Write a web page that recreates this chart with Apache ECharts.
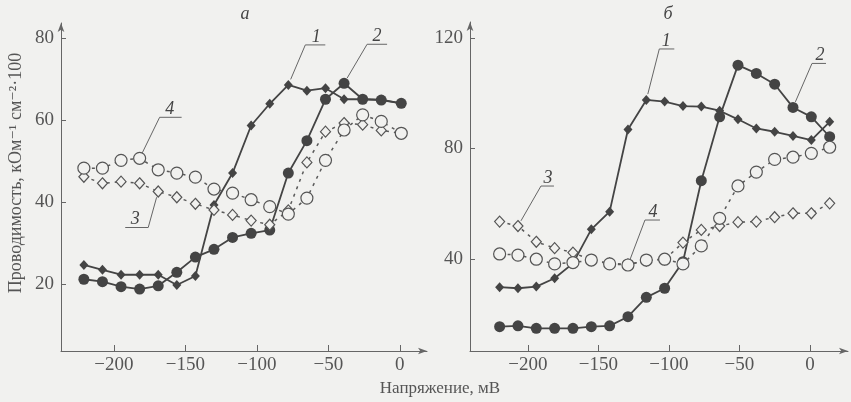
<!DOCTYPE html>
<html><head><meta charset="utf-8">
<script src="https://cdn.jsdelivr.net/npm/echarts@6/dist/echarts.min.js"></script>
<style>html,body{margin:0;padding:0;background:#f1f1ef}#c{width:851px;height:402px}</style>
</head><body><div id="c"></div>
<script>
// ---- data ----
const xA = [-221,-208,-195,-182,-169,-156,-143,-130,-117,-104,-91,-78,-65,-52,-39,-26,-13,1];
const s1a = [24.7,23.5,22.3,22.3,22.3,19.8,22.0,39.3,47.1,58.7,64.0,68.6,67.2,67.8,65.1,65.1,65.0,64.1];
const s2a = [21.2,20.6,19.4,18.8,19.6,22.9,26.6,28.5,31.4,32.4,33.2,47.1,55.0,65.1,69.0,65.1,64.9,64.1];
const s3a = [46.2,44.6,45.0,44.6,42.6,41.2,39.6,38.1,36.9,35.5,34.5,38.0,49.7,57.2,59.3,58.9,57.5,56.8];
const s4a = [48.3,48.3,50.2,50.7,47.9,47.1,46.1,43.2,42.2,40.6,38.9,37.1,41.0,50.2,57.6,61.3,59.7,56.8];

const xB = [-220,-207,-194,-181,-168,-155,-142,-129,-116,-103,-90,-77,-64,-51,-38,-25,-12,1,14];
const s1b = [29.8,29.4,30.0,33.0,38.4,50.7,57.1,86.8,97.5,96.9,95.3,95.1,93.6,90.5,87.2,86.0,84.5,83.0,89.6];
const s2b = [15.5,15.8,14.9,14.9,14.9,15.5,15.8,19.1,26.1,29.4,39.0,68.3,91.4,110.1,107.1,103.2,94.8,91.4,84.2];
const s3b = [53.5,51.9,46.2,43.9,42.3,39.6,38.4,38.0,39.4,39.8,45.9,50.5,51.9,53.3,53.5,55.1,56.5,56.5,60.1];
const s4b = [41.8,41.4,39.9,38.2,38.7,39.6,38.2,37.8,39.6,39.9,38.2,44.7,54.7,66.4,71.4,76.0,76.8,78.2,80.4];

const xTicks = [-200,-150,-100,-50,0];
const yTicksA = [20,40,60,80];
const yTicksB = [40,80,120];
const curveLabels = ['1','2','3','4'];
const panelNames = ['а','б'];
const xTitle = 'Напряжение, мВ';
const yTitle = 'Проводимость, кОм\u207B\u00B9 см\u207B\u00B2·100';

// ---- styles ----
const BG = '#f1f1ef', INK = '#444', AX = '#666';
const FONT = '"Liberation Serif", "DejaVu Serif", serif';
const minus = v => String(v).replace('-', '\u2212');

function xAxis(gi, min, max) {
  return { gridIndex: gi, type: 'value', min, max,
    axisLine: { show: true, onZero: false, lineStyle: { color: AX, width: 1 }, symbol: ['none','arrow'], symbolSize: [5, 9] },
    axisTick: { show: true, inside: true, length: 6, lineStyle: { color: AX }, customValues: xTicks },
    axisLabel: { customValues: xTicks, formatter: minus, color: '#555', fontFamily: FONT, fontSize: 19, margin: 5 },
    splitLine: { show: false } };
}
function yAxis(gi, min, max, ticks) {
  return { gridIndex: gi, type: 'value', min, max,
    axisLine: { show: true, onZero: false, lineStyle: { color: AX, width: 1 }, symbol: ['none','arrow'], symbolSize: [5, 9] },
    axisTick: { show: true, inside: true, length: 5, lineStyle: { color: AX }, customValues: ticks },
    axisLabel: { customValues: ticks, color: '#555', fontFamily: FONT, fontSize: 19, margin: 7 },
    splitLine: { show: false } };
}
function ser(gi, xs, ys, kind) {
  const pts = xs.map((x, i) => [x, ys[i]]);
  const filled = kind === 'fd' || kind === 'fc';
  const sym = (kind === 'fd' || kind === 'od') ? 'diamond' : 'circle';
  const size = { fd: [9, 10], fc: 11, od: [10, 11], oc: 12 }[kind];
  return { type: 'line', xAxisIndex: gi, yAxisIndex: gi, data: pts, symbol: sym, symbolSize: size,
    showSymbol: true, silent: true, z: filled ? 2 : 3,
    lineStyle: filled ? { color: INK, width: 1.8 } : { color: '#5a5a5a', width: 1.5, type: [3, 5] },
    itemStyle: filled ? { color: INK, borderColor: INK, borderWidth: 0 } : { color: BG, borderColor: '#555', borderWidth: 1.2 } };
}

const chart = echarts.init(document.getElementById('c'), null, { renderer: 'canvas' });
chart.setOption({
  backgroundColor: BG, animation: false,
  grid: [{ left: 61, right: 424, top: 23, bottom: 51 }, { left: 470, right: 3, top: 22, bottom: 51 }],
  xAxis: [xAxis(0, -237, 19), xAxis(1, -241, 27)],
  yAxis: [yAxis(0, 3.7, 83.7, yTicksA), yAxis(1, 6.7, 125.7, yTicksB)],
  series: [ser(0, xA, s1a, 'fd'), ser(0, xA, s2a, 'fc'), ser(0, xA, s3a, 'od'), ser(0, xA, s4a, 'oc'),
           ser(1, xB, s1b, 'fd'), ser(1, xB, s2b, 'fc'), ser(1, xB, s3b, 'od'), ser(1, xB, s4b, 'oc')]
});

// ---- annotations: curve numbers attached to data points ----
// [seriesIndex, pointIndex, label, elbow dx, elbow dy, underline length, text dx, text dy]
const ann = [
  [0, 11, curveLabels[0], 17, -40, 20, 11, -8],
  [1, 14, curveLabels[1], 23, -39, 20, 10, -8],
  [3, 3,  curveLabels[3], 20, -41, 22, 10, -8],
  [2, 4,  curveLabels[2], -10, 36, -23, -13, -8],
  [4, 8,  curveLabels[0], 13, -51, 15, 7, -8],
  [5, 16, curveLabels[1], 19, -44, 14, 8, -8],
  [6, 1,  curveLabels[2], 23, -40, 13, 7, -8],
  [7, 7,  curveLabels[3], 17, -45, 15, 8, -8]
];
const allSeries = [[xA,s1a],[xA,s2a],[xA,s3a],[xA,s4a],[xB,s1b],[xB,s2b],[xB,s3b],[xB,s4b]];
const graphic = [];
ann.forEach(([si, pi, t, dx, dy, ul, tx, ty]) => {
  const [xs, ys] = allSeries[si];
  const p = chart.convertToPixel({ seriesIndex: si }, [xs[pi], ys[pi]]);
  const ex = p[0] + dx, ey = p[1] + dy;
  const L = Math.hypot(dx, dy), r = 6;
  const tip = [p[0] + dx / L * r, p[1] + dy / L * r];
  graphic.push({ type: 'polyline', silent: true, shape: { points: [tip, [ex, ey], [ex + ul, ey]] },
    style: { stroke: '#666', lineWidth: 1, fill: null }, z: 10 });
  graphic.push({ type: 'text', silent: true, x: ex + tx, y: ey + ty, z: 10,
    style: { text: t, font: 'italic 18px ' + FONT, fill: '#444', align: 'center', verticalAlign: 'middle' } });
});
// panel names and axis titles
graphic.push({ type: 'text', silent: true, x: 245, y: 14, style: { text: panelNames[0], font: 'italic 18px ' + FONT, fill: '#444', align: 'center', verticalAlign: 'middle' } });
graphic.push({ type: 'text', silent: true, x: 668, y: 14, style: { text: panelNames[1], font: 'italic 18px ' + FONT, fill: '#444', align: 'center', verticalAlign: 'middle' } });
graphic.push({ type: 'text', silent: true, x: 440, y: 389, style: { text: xTitle, font: '17px ' + FONT, fill: '#555', align: 'center', verticalAlign: 'middle' } });
graphic.push({ type: 'text', silent: true, x: 16, y: 173, rotation: Math.PI / 2, style: { text: yTitle, font: '18px ' + FONT, fill: '#555', align: 'center', verticalAlign: 'middle' } });
chart.setOption({ graphic });
</script>
</body></html>
